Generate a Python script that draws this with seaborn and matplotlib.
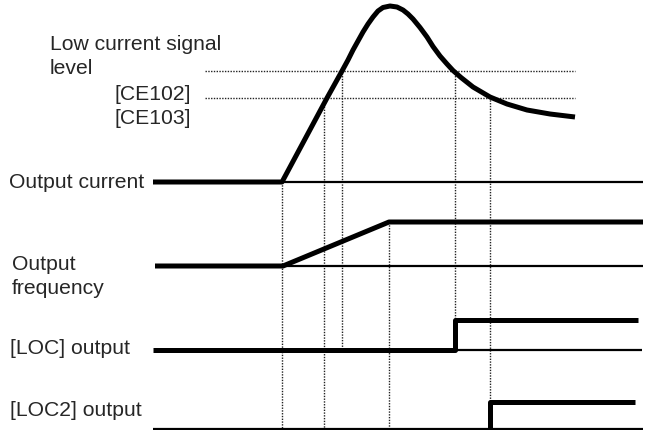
import numpy as np
import matplotlib.pyplot as plt
import seaborn as sns

# time axis runs left -> right, level axis runs top -> bottom (diagram units)
current_t = [153, 282, 327, 342, 348, 353, 358, 363, 368, 373, 378, 383, 390,
             397, 403, 408, 413, 420, 427, 433, 440, 447, 453, 461, 473, 490,
             507, 527, 550, 575]
current_y = [182, 182, 98, 71, 60, 50, 41, 32, 24, 17, 11, 7.5, 6,
             7, 10, 14, 19, 27.5, 37, 46.5, 56, 64, 70.5, 77.5, 87, 97,
             104, 110, 114, 117]

freq_t = [155, 283, 389, 643]
freq_y = [266, 266, 222, 222]

loc_t = [153, 455, 455, 638]
loc_y = [350, 350, 320, 320]

loc2_t = [490, 490, 635]
loc2_y = [429, 402, 402]

# thin reference baselines: (start, end, level)
baselines = [(282, 643, 182), (283, 643, 266), (455, 642, 350), (153, 643, 429)]

# low current signal levels (dotted)
signal_levels = [70.5, 97.5]
signal_span = (205, 575)

# event markers: (time, top, bottom)
events = [(282, 182, 430), (324, 98, 430), (342, 70, 350),
          (389, 222, 430), (455, 70, 320), (490, 97, 402)]

labels = [
    ("Low current signal", 50, 45),
    ("level", 50, 69),
    ("[CE102]", 114, 94),
    ("[CE103]", 114, 118),
    ("Output current", 9, 182),
    ("Output", 12, 265),
    ("frequency", 12, 289),
    ("[LOC] output", 10, 348),
    ("[LOC2] output", 10, 410),
]

sns.set_style("white")
plt.rcParams['font.family'] = ['Liberation Sans', 'DejaVu Sans']

fig = plt.figure(figsize=(6.53, 4.30), dpi=100)
ax = fig.add_axes([0, 0, 1, 1])

dot = (0, (1, 1))
for y in signal_levels:
    ax.plot(signal_span, [y, y], color='#222222', lw=1.0, ls=dot)
for t, top, bottom in events:
    ax.plot([t, t], [top, bottom], color='#222222', lw=1.0, ls=dot)

for x0, x1, y in baselines:
    ax.plot([x0, x1], [y, y], color='black', lw=1.6, solid_capstyle='butt')

thick = dict(color='black', linewidth=3.6, sort=False, estimator=None, ax=ax,
             solid_joinstyle='round', solid_capstyle='butt')
sns.lineplot(x=current_t, y=current_y, **thick)
sns.lineplot(x=freq_t, y=freq_y, **thick)
sns.lineplot(x=loc_t, y=loc_y, **thick)
sns.lineplot(x=loc2_t, y=loc2_y, **thick)

for text, x, y in labels:
    ax.text(x, y, text, fontsize=15.2, ha='left', va='center')

ax.set_xlim(0, 653)
ax.set_ylim(430, 0)
ax.axis('off')

plt.savefig('out.png', dpi=100)
plt.close()
